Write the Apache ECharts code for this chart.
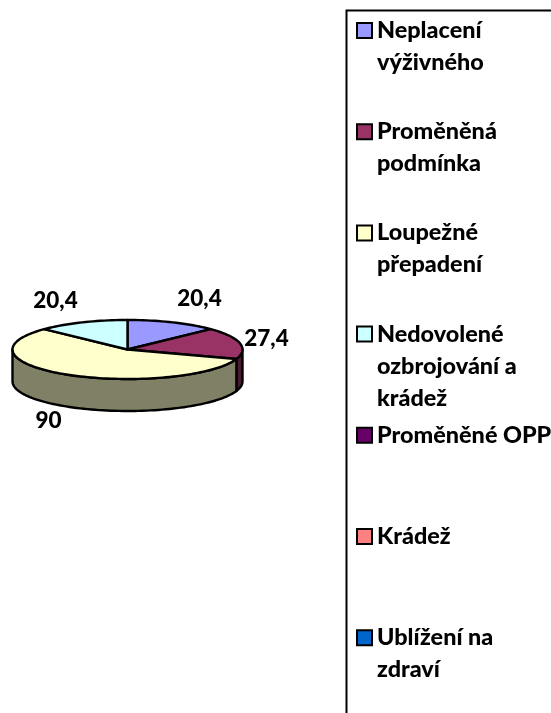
<!DOCTYPE html>
<html>
<head>
<meta charset="utf-8">
<style>
  html, body { margin: 0; padding: 0; background: #fff; }
  #chart { width: 551px; height: 713px; }
</style>
<script src="https://cdn.jsdelivr.net/npm/echarts@6/dist/echarts.min.js"></script>
</head>
<body>
<div id="chart"></div>
<script>
const categories = [
  'Neplacení\nvýživného',
  'Proměněná\npodmínka',
  'Loupežné\npřepadení',
  'Nedovolené\nozbrojování a\nkrádež',
  'Proměněné OPP',
  'Krádež',
  'Ublížení na\nzdraví'
]
const values = [20.4, 27.4, 90, 20.4, 0, 0, 0]
const topColors = ['#9999ff', '#993366', '#ffffcc', '#ccffff', '#660066', '#ff8080', '#0066cc']
const sideColors = ['#4d4d80', '#4d1a33', '#808066', '#668080', '#330033', '#804040', '#003366']

// pie is drawn by hand because echarts has no tilted 3d pie
const pie = { cx: 127.5, cy: 349.5, rx: 115, ry: 29.5, depth: 32 }
// label offset from the pie centre, per slice
const labelOffsets = [[72, -51], [139, -11], [-79, 71], [-72, -49]]
const legendFirstY = 30.5
const legendStep = 101.2
const lineHeight = 32
const fontFamily = 'Lato, "Noto Sans", sans-serif'

const total = values.reduce((a, b) => a + b, 0)

function arcPoint(deg, dy) {
  const a = deg * Math.PI / 180
  return [pie.cx + pie.rx * Math.sin(a), pie.cy - pie.ry * Math.cos(a) + dy]
}

function arcPoints(from, to, dy) {
  const pts = []
  const steps = Math.max(2, Math.ceil((to - from) / 2))
  for (let i = 0; i <= steps; i++) {
    pts.push(arcPoint(from + (to - from) * i / steps, dy))
  }
  return pts
}

function sliceRange(index) {
  const start = values.slice(0, index).reduce((a, b) => a + b, 0) / total * 360
  return [start, start + values[index] / total * 360]
}

function renderSlice(index) {
  return function () {
    if (!values[index]) return { type: 'group', children: [] }
    const [start, end] = sliceRange(index)
    const children = []
    // only the part of the rim facing the viewer, 90..270 deg
    const wallFrom = Math.max(start, 90)
    const wallTo = Math.min(end, 270)
    if (wallTo > wallFrom) {
      const upper = arcPoints(wallFrom, wallTo, 0)
      const lower = arcPoints(wallFrom, wallTo, pie.depth).reverse()
      children.push({
        type: 'polygon',
        shape: { points: upper.concat(lower) },
        style: { fill: sideColors[index], stroke: '#000', lineWidth: 2.4, lineJoin: 'round' }
      })
    }
    children.push({
      type: 'polygon',
      shape: { points: [[pie.cx, pie.cy]].concat(arcPoints(start, end, 0)) },
      style: { fill: topColors[index], stroke: '#000', lineWidth: 2.4, lineJoin: 'round' }
    })
    const offset = labelOffsets[index]
    children.push({
      type: 'text',
      style: {
        x: pie.cx + offset[0],
        y: pie.cy + offset[1],
        text: String(values[index]).replace('.', ','),
        fill: '#000',
        font: '900 22.5px ' + fontFamily,
        align: 'center',
        verticalAlign: 'middle'
      }
    })
    return { type: 'group', children: children }
  }
}

// one legend per item: entries sit at a fixed step whatever their line count.
// blank lines in front keep the swatch level with the first text line
const legends = categories.map((name, i) => {
  const lines = name.split('\n').length
  return {
    data: [name],
    orient: 'vertical',
    left: 356,
    top: legendFirstY + legendStep * i - (lines - 0.5) * lineHeight,
    padding: 0,
    selectedMode: false,
    icon: 'rect',
    itemWidth: 15,
    itemHeight: 15,
    itemStyle: { borderColor: '#000', borderWidth: 2 },
    formatter: (n) => '\n'.repeat(lines - 1) + n,
    textStyle: {
      fontFamily: fontFamily,
      fontWeight: 900,
      fontSize: 23.4,
      color: '#000',
      lineHeight: lineHeight
    }
  }
})

const chart = echarts.init(document.getElementById('chart'), null, { renderer: 'canvas' })
chart.setOption({
  animation: false,
  backgroundColor: '#fff',
  legend: legends,
  tooltip: { show: false },
  graphic: [{
    type: 'rect',
    shape: { x: 346.5, y: 10.5, width: 400, height: 900 },
    style: { fill: 'none', stroke: '#000', lineWidth: 2 },
    silent: true
  }],
  series: categories.map((name, i) => ({
    type: 'custom',
    name: name,
    coordinateSystem: 'none',
    silent: true,
    z: 2,
    itemStyle: { color: topColors[i] },
    data: [values[i]],
    renderItem: renderSlice(i)
  }))
})
</script>
</body>
</html>
